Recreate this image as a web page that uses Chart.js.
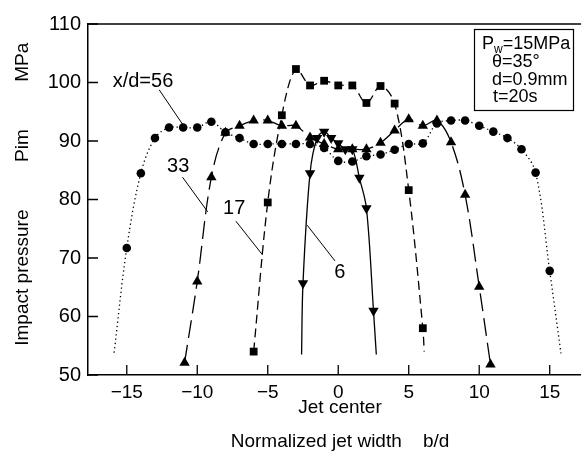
<!DOCTYPE html>
<html><head><meta charset="utf-8">
<script src="https://cdn.jsdelivr.net/npm/chart.js@4.4.0/dist/chart.umd.min.js"></script>
<style>
html,body{margin:0;padding:0;background:#fff;overflow:hidden;width:581px;height:461px;}
#wrap{position:relative;width:600px;height:461px;}
</style></head><body>
<div id="wrap"><canvas id="c" width="600" height="461"></canvas></div>
<script>
// ---- tick labels ----
const xTickValues = [-15, -10, -5, 0, 5, 10, 15];
const yTickValues = [50, 60, 70, 80, 90, 100, 110];

// ---- x/d = 56 (circles, dotted) ----
const bd56  = [-15,-14,-13,-12,-11,-10,-9,-8,-7,-6,-5,-4,-3,-2,-1,0,1,2,3,4,5,6,7,8,9,10,11,12,13,14,15];
const pim56 = [71.7,84.5,90.5,92.3,92.3,92.3,93.3,91.5,90.5,89.5,89.5,89.5,89.5,89.5,88.8,86.6,86.5,87.4,87.7,88.5,89.5,89.6,93.0,93.5,93.5,92.6,91.6,90.5,88.6,84.6,67.8];
const tailBd56  = [-15.9, 15.8];
const tailPim56 = [53.8, 53.7];

// ---- x/d = 33 (triangles, long dash) ----
const bd33  = [-10.9,-10,-9,-8,-7,-6,-5,-4,-3,-2,-1,0,1,2,3,4,5,6,7,8,9,10,10.8];
const pim33 = [52.1,66.0,83.8,91.4,92.6,93.5,93.5,92.6,92.6,90.6,89.5,88.6,88.6,88.6,89.7,91.8,93.7,92.6,93.5,89.8,80.8,65.1,51.8];
const tailBd33  = [null, null];
const tailPim33 = [null, null];

// ---- x/d = 17 (squares, dashed) ----
const bd17  = [-6,-5,-4,-3,-2,-1,0,1,2,3,4,5,6];
const pim17 = [54.0,79.5,94.4,102.3,99.5,100.3,99.5,99.5,96.5,99.4,96.4,81.6,58.0];
const tailBd17  = [null, 6.1];
const tailPim17 = [null, 54.0];

// ---- x/d = 6 (down triangles, solid) ----
const bd6  = [-2.5,-2,-1.5,-1,-0.5,0,0.5,1,1.5,2,2.5];
const pim6 = [65.7,84.5,90.5,91.6,90.5,89.6,88.6,88.6,83.7,78.5,61.0];
const tailBd6  = [-2.6, 2.7];
const tailPim6 = [53.5, 53.5];

function build(xs, ys, tx, ty) {
  const pts = xs.map((x, i) => ({x: x, y: ys[i]}));
  if (tx[0] !== null) pts.unshift({x: tx[0], y: ty[0], tail: true});
  if (tx[1] !== null) pts.push({x: tx[1], y: ty[1], tail: true});
  return pts;
}
const FONT = "'Liberation Sans', Arial, sans-serif";

function ds(data, style, r, dash, rot) {
  return {
    data: data, showLine: true, borderColor: '#000', backgroundColor: '#000',
    borderWidth: 1.3, borderDash: dash, tension: 0.35,
    pointStyle: style, pointRotation: rot || 0,
    pointRadius: (c) => (c.raw && c.raw.tail) ? 0 : r,
    pointHoverRadius: 0, pointBorderWidth: 0
  };
}

const annotations = [
  {text: 'x/d=56', x: -13.85, y: 100.2, from: [-12.7, 98.75], to: [-10.94, 92.5]},
  {text: '33', x: -11.35, y: 85.7, from: [-11.04, 83.8], to: [-9.26, 77.9]},
  {text: '17', x: -7.38, y: 78.5, from: [-7.26, 76.3], to: [-5.36, 70.5]},
  {text: '6', x: 0.12, y: 67.6, from: [-0.23, 69.5], to: [-2.2, 75.6]}
];

const decor = {
  id: 'decor',
  afterDraw(chart) {
    const ctx = chart.ctx, a = chart.chartArea;
    const xs = chart.scales.x, ys = chart.scales.y;
    ctx.save();
    ctx.strokeStyle = '#000';
    ctx.lineWidth = 1.5;
    ctx.beginPath();
    ctx.moveTo(a.left - 0.75, a.top); ctx.lineTo(a.right, a.top);
    ctx.stroke();
    // inward ticks
    ctx.lineWidth = 1.3;
    ctx.beginPath();
    xTickValues.forEach(v => { const p = xs.getPixelForValue(v); ctx.moveTo(p, a.bottom); ctx.lineTo(p, a.bottom - 10); });
    yTickValues.forEach(v => { const p = ys.getPixelForValue(v); ctx.moveTo(a.left, p); ctx.lineTo(a.left + 10, p); });
    ctx.stroke();
    // annotations
    ctx.fillStyle = '#000';
    ctx.font = '20px ' + FONT;
    ctx.textAlign = 'center'; ctx.textBaseline = 'middle';
    ctx.lineWidth = 1;
    annotations.forEach(an => {
      ctx.fillText(an.text, xs.getPixelForValue(an.x), ys.getPixelForValue(an.y));
      ctx.beginPath();
      ctx.moveTo(xs.getPixelForValue(an.from[0]), ys.getPixelForValue(an.from[1]));
      ctx.lineTo(xs.getPixelForValue(an.to[0]), ys.getPixelForValue(an.to[1]));
      ctx.stroke();
    });
    // condition box
    ctx.lineWidth = 1.2;
    ctx.strokeRect(474.5, 29.5, 99, 81);
    ctx.textAlign = 'left'; ctx.textBaseline = 'alphabetic';
    ctx.font = '18px ' + FONT;
    ctx.fillText('P', 482, 49);
    let w = ctx.measureText('P').width;
    ctx.font = '12px ' + FONT;
    ctx.fillText('w', 482 + w, 53);
    let w2 = ctx.measureText('w').width;
    ctx.font = '18px ' + FONT;
    ctx.fillText('=15MPa', 482 + w + w2, 49);
    ctx.fillText('θ=35°', 492, 67);
    ctx.fillText('d=0.9mm', 492, 85);
    ctx.fillText('t=20s', 493, 102);
    ctx.restore();
  }
};

new Chart(document.getElementById('c'), {
  type: 'scatter',
  data: {
    datasets: [
      ds(build(bd56, pim56, tailBd56, tailPim56), 'circle', 4.3, [1.3, 3]),
      ds(build(bd33, pim33, tailBd33, tailPim33), 'triangle', 6, [18, 7]),
      ds(build(bd17, pim17, tailBd17, tailPim17), 'rect', 5.5, [9, 5]),
      ds(build(bd6, pim6, tailBd6, tailPim6), 'triangle', 6, [], 180)
    ]
  },
  options: {
    responsive: false, animation: false, devicePixelRatio: 1,
    layout: {padding: {left: 0, right: 8, top: 24, bottom: 0}},
    plugins: {legend: {display: false}, tooltip: {enabled: false}},
    scales: {
      x: {
        type: 'linear', min: -17.75, max: 18,
        afterFit: s => { s.height = 86; },
        afterBuildTicks: s => { s.ticks = xTickValues.map(v => ({value: v})); },
        grid: {display: true, drawOnChartArea: false, drawTicks: false},
        border: {display: true, color: '#000', width: 1.5},
        ticks: {color: '#000', font: {family: FONT, size: 19}, padding: 6, maxRotation: 0,
                callback: v => String(v).replace('-', '\u2212')},
        title: {display: true, text: ['Jet center', 'Normalized jet width    b/d'], color: '#000',
                font: {family: FONT, size: 19, lineHeight: 1.75}, padding: {top: 0, bottom: 3}}
      },
      y: {
        type: 'linear', min: 50, max: 110,
        afterFit: s => { s.width = 88; },
        afterBuildTicks: s => { s.ticks = yTickValues.map(v => ({value: v})); },
        grid: {display: true, drawOnChartArea: false, drawTicks: false},
        border: {display: true, color: '#000', width: 1.5},
        ticks: {color: '#000', font: {family: FONT, size: 20}, padding: 7},
        title: {display: true, text: '  Impact pressure         Pim         MPa', color: '#000',
                font: {family: FONT, size: 19, lineHeight: 1.2}, padding: {top: 11, bottom: 0}}
      }
    }
  },
  plugins: [decor]
});
</script>
</body></html>
